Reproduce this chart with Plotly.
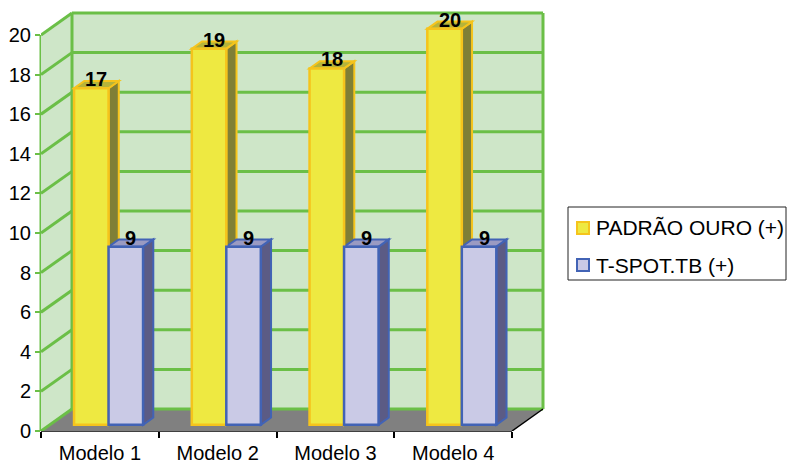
import plotly.graph_objects as go

# ---------------- data ----------------
categories = ["Modelo 1", "Modelo 2", "Modelo 3", "Modelo 4"]
padrao_ouro = [17, 19, 18, 20]
tspot = [9, 9, 9, 9]
series_names = ["PADRÃO OURO (+)", "T-SPOT.TB (+)"]
y_tick_values = list(range(0, 21, 2))

# ---------------- styling / geometry constants ----------------
W, H = 787, 464
ML, MR, MT, MB = 41, 239, 10, 33
PX_X = 117.75          # pixels per category on the front plane
PX_Y = 19.8            # pixels per value unit
DEPTH_PX_X, DEPTH_PX_Y = 31, 22   # 3-D depth of the floor / walls in pixels
plot_w = W - ML - MR
plot_h = H - MT - MB
x_range = [0, plot_w / PX_X]
y_range = [0, plot_h / PX_Y]
DX = DEPTH_PX_X / PX_X
DY = DEPTH_PX_Y / PX_Y
NCAT = len(categories)
YMAX = 20
BAR_W = 0.293          # bar width in category units
START = 0.28           # bar front plane, fraction of floor depth
BAR_DEPTH = 0.33       # bar depth, fraction of floor depth
SX, SY = START * DX, START * DY
BDX, BDY = BAR_DEPTH * DX, BAR_DEPTH * DY

FONT = "Liberation Sans, Arial, sans-serif"
WALL = "#CEE6C8"
GRID = "#6BBF47"
FLOOR = "#808080"
styles = [
    dict(front="#EEE941", line="#F5C41C", side="#7F7F36", top="#B6B43A"),
    dict(front="#CACAE6", line="#4263B5", side="#5B5B85", top="#9A9AC2"),
]
series_values = [padrao_ouro, tspot]

centers = [i + 0.5 for i in range(NCAT)]


def px_to_paper_x(px):
    return (px - ML) / plot_w


def px_to_paper_y(py):
    return (H - MB - py) / plot_h


shapes = []
# back wall
shapes.append(dict(type="rect", xref="x", yref="y", x0=DX, x1=NCAT + DX, y0=DY, y1=YMAX + DY,
                   fillcolor=WALL, line=dict(width=0), layer="below"))
# left wall
shapes.append(dict(type="path", xref="x", yref="y",
                   path=f"M0,0 L0,{YMAX} L{DX},{YMAX + DY} L{DX},{DY} Z",
                   fillcolor=WALL, line=dict(width=0), layer="below"))
# floor
shapes.append(dict(type="path", xref="x", yref="y",
                   path=f"M0,0 L{NCAT},0 L{NCAT + DX},{DY} L{DX},{DY} Z",
                   fillcolor=FLOOR, line=dict(width=0), layer="below"))
# grid lines on back and left walls
for v in y_tick_values:
    shapes.append(dict(type="line", xref="x", yref="y", x0=DX, x1=NCAT + DX, y0=v + DY, y1=v + DY,
                       line=dict(color=GRID, width=3), layer="below"))
    shapes.append(dict(type="line", xref="x", yref="y", x0=0, x1=DX, y0=v, y1=v + DY,
                       line=dict(color=GRID, width=3), layer="below"))
# vertical wall edges
for xv in (DX, NCAT + DX):
    shapes.append(dict(type="line", xref="x", yref="y", x0=xv, x1=xv, y0=DY, y1=YMAX + DY,
                       line=dict(color=GRID, width=3), layer="below"))
shapes.append(dict(type="line", xref="paper", yref="y", x0=0, x1=0, y0=0, y1=YMAX,
                   line=dict(color=GRID, width=3), layer="below"))
# black category axis line + floor diagonal
shapes.append(dict(type="line", xref="x", yref="paper", x0=0, x1=NCAT, y0=0, y1=0,
                   line=dict(color="black", width=1.5), layer="below"))
shapes.append(dict(type="line", xref="x", yref="y", x0=NCAT, x1=NCAT + DX, y0=0, y1=DY,
                   line=dict(color="black", width=1.5), layer="below"))

# 3-D side and top faces of every bar, computed from data
offsets = [-BAR_W + SX, SX]
annotations = []
for s, vals in enumerate(series_values):
    st = styles[s]
    for c, v in zip(centers, vals):
        xl = c + offsets[s]
        xr = xl + BAR_W
        yb = SY
        yt = v + SY
        shapes.append(dict(type="path", xref="x", yref="y",
                           path=f"M{xr},{yb} L{xr + BDX},{yb + BDY} L{xr + BDX},{yt + BDY} L{xr},{yt} Z",
                           fillcolor=st["side"], line=dict(color=st["line"], width=2), layer="below"))
        shapes.append(dict(type="path", xref="x", yref="y",
                           path=f"M{xl},{yt} L{xr},{yt} L{xr + BDX},{yt + BDY} L{xl + BDX},{yt + BDY} Z",
                           fillcolor=st["top"], line=dict(color=st["line"], width=2), layer="below"))
        annotations.append(dict(xref="x", yref="y", x=xl + BAR_W / 2 + BDX / 2, y=yt,
                                text=f"<b>{v}</b>", showarrow=False, yanchor="bottom",
                                yshift=-4, font=dict(family=FONT, size=20, color="black")))

# legend box (drawn in paper coordinates)
LEG_BOX = (568, 207, 786, 280)
LEG_ROWS = [228, 265]
shapes.append(dict(type="rect", xref="paper", yref="paper",
                   x0=px_to_paper_x(LEG_BOX[0]), x1=px_to_paper_x(LEG_BOX[2]),
                   y0=px_to_paper_y(LEG_BOX[3]), y1=px_to_paper_y(LEG_BOX[1]),
                   line=dict(color="#222222", width=1), fillcolor="white", layer="above"))
for s, name in enumerate(series_names):
    st = styles[s]
    yc = LEG_ROWS[s]
    shapes.append(dict(type="rect", xref="paper", yref="paper",
                       x0=px_to_paper_x(577), x1=px_to_paper_x(589),
                       y0=px_to_paper_y(yc + 6), y1=px_to_paper_y(yc - 6),
                       fillcolor=st["front"], line=dict(color=st["line"], width=2), layer="above"))
    annotations.append(dict(xref="paper", yref="paper", x=px_to_paper_x(594), y=px_to_paper_y(yc),
                            xanchor="left", yanchor="middle", text=name, showarrow=False,
                            font=dict(family=FONT, size=21, color="black")))

fig = go.Figure()
for s, vals in enumerate(series_values):
    st = styles[s]
    fig.add_trace(go.Bar(
        x=centers, y=vals, base=SY, width=BAR_W, offset=offsets[s],
        name=series_names[s],
        marker=dict(color=st["front"], line=dict(color=st["line"], width=2.5)),
        hoverinfo="skip",
    ))

fig.update_layout(
    width=W, height=H,
    margin=dict(l=ML, r=MR, t=MT, b=MB, autoexpand=False),
    paper_bgcolor="white", plot_bgcolor="white",
    font=dict(family=FONT, size=20, color="black"),
    shapes=shapes, annotations=annotations,
    showlegend=False,
    xaxis=dict(range=x_range, showgrid=False, zeroline=False, showline=False,
               tickmode="array", tickvals=centers, ticktext=categories, ticks="",
               ticklabelstandoff=8,
               tickfont=dict(family=FONT, size=20, color="black"),
               minor=dict(tickmode="array", tickvals=list(range(NCAT + 1)), ticks="outside",
                          ticklen=6, tickwidth=1.5, tickcolor="black", showgrid=False),
               fixedrange=True),
    yaxis=dict(range=y_range, showgrid=False, zeroline=False, showline=False,
               tickmode="array", tickvals=y_tick_values, ticks="outside",
               ticklen=5, tickwidth=2, tickcolor=GRID,
               tickfont=dict(family=FONT, size=20, color="black"),
               fixedrange=True),
)

fig.write_html("out.html")
